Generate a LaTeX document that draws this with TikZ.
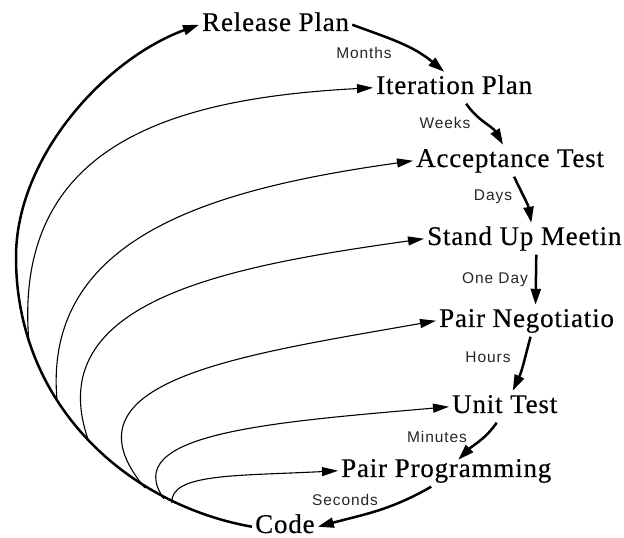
\documentclass[tikz,border=0pt]{standalone}
\usepackage{fontspec}
\setmainfont{Liberation Serif}[LetterSpace=3,FakeBold=0.4]
\newfontfamily\tagfont{Liberation Sans}[LetterSpace=6]
\usetikzlibrary{arrows.meta}

\begin{document}
\begin{tikzpicture}[x=1pt,y=1pt]
		\tikzstyle{stage} = [inner sep=3pt, anchor=base west, text height=19pt, text depth=6.5pt, font=\fontsize{27}{30}\selectfont]
		\tikzstyle{tag} = [inner sep=1pt, text=black!85, font=\tagfont\fontsize{15.5}{18}\selectfont]
		\tikzstyle{bigarrow} = [-{Triangle[length=16pt,width=10pt]}, line width=2.5pt]
		\tikzstyle{thinarrow} = [-{Triangle[length=16pt,width=9pt]}, line width=1.1pt]
		\useasboundingbox (0,0) rectangle (624,538);
		\node [stage] (v1) at (199,507) {Release Plan};
		\node [stage] (v2) at (373,444) {Iteration Plan};
		\node [stage] (v3) at (413,371) {Acceptance Test};
		\node [stage] (v4) at (424,293) {Stand Up Meetin};
		\node [stage] (v5) at (436,211) {Pair Negotiatio};
		\node [stage] (v6) at (449,125) {Unit Test};
		\node [stage] (v7) at (338,61) {Pair Programming};
		\node [stage] (v8) at (252,5) {Code};
		\node [tag] (l1) at (364,485) {Months};
		\node [tag] (l2) at (445,415) {Weeks};
		\node [tag] (l3) at (493,341) {Days};
		\node [tag] (l4) at (495,258) {One Day};
		\node [tag] (l5) at (488,181) {Hours};
		\node [tag] (l6) at (437,101) {Minutes};
		\node [tag] (l7) at (345,38) {Seconds};
		% the chain down the right side
		\draw [bigarrow] (v1.east) to[out=-20,in=140] ([xshift=-10pt]v2.north);
		\draw [bigarrow] ([xshift=12pt]v2.south) to[out=-55,in=120] ([xshift=-7pt]v3.north);
		\draw [bigarrow] ([xshift=4pt]v3.south) to[out=-65,in=100] ([xshift=7pt]v4.north);
		\draw [bigarrow] ([xshift=12pt]v4.south) -- ([xshift=9pt]v5.north);
		\draw [bigarrow] ([xshift=4pt]v5.south) to[out=-105,in=65] ([xshift=8pt]v6.north);
		\draw [bigarrow] ([xshift=-8pt]v6.south) to[out=-125,in=45] ([xshift=12pt,yshift=-5pt]v7.north);
		\draw [bigarrow] ([xshift=-15pt]v7.south) to[out=-150,in=15] (v8.east);
		% the big arc back up from Code
		\coordinate (a1) at (16,281);
		\draw [bigarrow] (v8.west) .. controls +(170:124) and +(270:150) .. (a1)
			.. controls +(90:100) and +(200:100) .. (v1.west);
		% feedback loops
		\coordinate (s1) at (29,195);
		\coordinate (s2) at (57,138);
		\coordinate (s3) at (89,96);
		\coordinate (s4) at (145,50);
		\coordinate (s5) at (164,39);
		\coordinate (s6) at (172,35);
		\draw [thinarrow] (s1) .. controls +(95:200) and +(183:200) .. (v2.west);
		\draw [thinarrow] (s2) .. controls +(95:165) and +(188:200) .. (v3.west);
		\draw [thinarrow] (s3) .. controls +(110:150) and +(188:200) .. (v4.west);
		\draw [thinarrow] (s4) .. controls +(130:140) and +(190:200) .. (v5.west);
		\draw [thinarrow] (s5) .. controls +(125:80) and +(185:180) .. (v6.west);
		\draw [thinarrow] (s6) .. controls +(95:30) and +(183:100) .. (v7.west);
\end{tikzpicture}
\end{document}
